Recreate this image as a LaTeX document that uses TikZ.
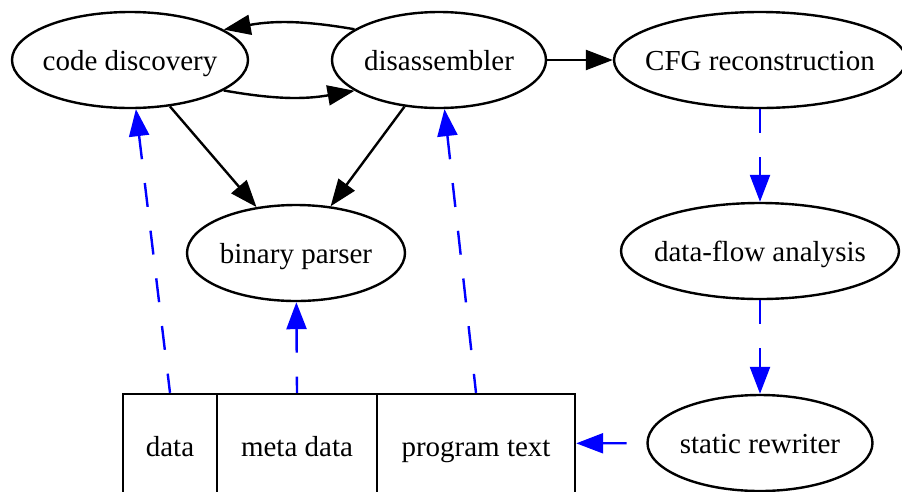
\documentclass[tikz,border=0pt]{standalone}
\usepackage{fontspec}
\setmainfont{Liberation Serif}
\usetikzlibrary{shapes.geometric,arrows.meta}
\begin{document}
\begin{tikzpicture}[x=1pt,y=-1pt,
  every node/.style={font=\fontsize{29}{34}\selectfont},
  every label/.style={inner sep=0pt,text height=20pt,text depth=0pt},
  proc/.style={ellipse,draw,line width=2.4pt,inner sep=0pt,minimum height=96pt},
  field/.style={rectangle,draw,line width=2.4pt,inner sep=0pt,minimum height=99pt,
    text height=26pt,text depth=0pt},
  flow/.style={line width=2.4pt,-{Triangle[length=27pt,width=20pt]}},
  back/.style={line width=2.4pt,{Triangle[length=27pt,width=20pt]}-},
  feed/.style={blue,dash pattern=on 24pt off 24pt},
]
% canvas
\clip (0,0) rectangle (902,491);
\fill[white] (0,0) rectangle (902,491);

% processing stages
\node[proc,minimum width=236pt,label=center:{code discovery}] (cd) at (130,60) {};
\node[proc,minimum width=214pt,label=center:{disassembler}] (dis) at (439,60) {};
\node[proc,minimum width=292pt,label=center:{CFG reconstruction}] (cfg) at (760,60) {};
\node[proc,minimum width=218pt,label=center:{binary parser}] (bp) at (296,253) {};
\node[proc,minimum width=278pt,label=center:{data-flow analysis}] (dfa) at (760,251) {};
\node[proc,minimum width=225pt,label=center:{static rewriter}] (sr) at (760,443) {};

% binary record with three fields
\node[field,minimum width=94pt] (data) at (170,443.5) {data};
\node[field,minimum width=160pt] (meta) at (297,443.5) {meta data};
\node[field,minimum width=198pt] (prog) at (476,443.5) {program text};

% control edges
\draw[flow] (dis.160) to[bend right=10] (cd.18);
\draw[flow] (cd.-18) to[bend right=10] (dis.200);
\draw[flow] (cd) -- (bp);
\draw[flow] (dis) -- (bp);
\draw[flow] (dis) -- (cfg);

% data edges
\draw[flow,feed] (cfg) -- (dfa);
\draw[flow,feed] (dfa) -- (sr);
\draw[back,feed] (prog) -- (sr);
\draw[back,feed] (cd) -- (data.north);
\draw[back,feed] (bp) -- (meta.north);
\draw[back,feed] (dis) -- (prog.north);
\end{tikzpicture}
\end{document}
